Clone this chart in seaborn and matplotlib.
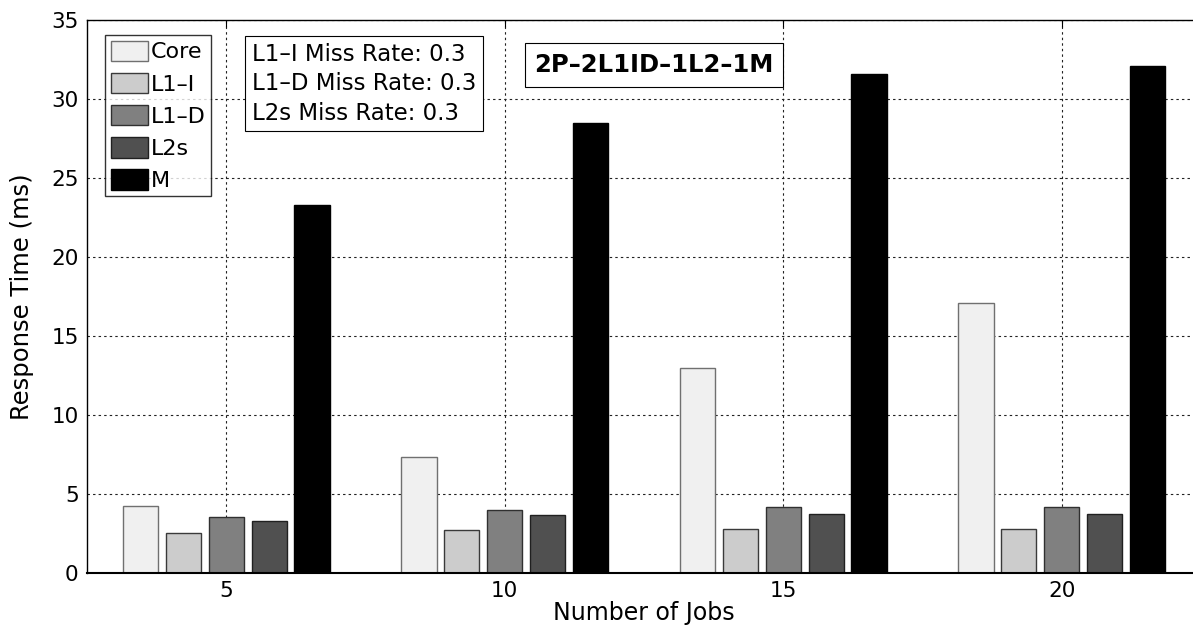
import matplotlib
matplotlib.use("Agg")
import matplotlib.pyplot as plt
import seaborn as sns
import pandas as pd
import numpy as np
from matplotlib.patches import Patch

jobs = [5, 10, 15, 20]
components = ["Core", "L1–I", "L1–D", "L2s", "M"]
core = [4.25, 7.32, 13.0, 17.1]
l1i = [2.52, 2.72, 2.78, 2.8]
l1d = [3.55, 3.98, 4.16, 4.2]
l2s = [3.31, 3.64, 3.74, 3.76]
mem = [23.3, 28.5, 31.6, 32.1]
fill_colors = ["#f0f0f0", "#cccccc", "#808080", "#505050", "#000000"]
edge_colors = ["#707070", "#3a3a3a", "#303030", "#202020", "#000000"]
info_lines = ["L1–I Miss Rate: 0.3", "L1–D Miss Rate: 0.3", "L2s Miss Rate: 0.3"]
config_title = "2P–2L1ID–1L2–1M"

series = [core, l1i, l1d, l2s, mem]
rows = []
for comp, vals in zip(components, series):
    for j, v in zip(jobs, vals):
        rows.append({"Jobs": j, "Component": comp, "Time": v})
df = pd.DataFrame(rows)

sns.set_style("white")
plt.rcParams["font.family"] = ["DejaVu Sans"]
plt.rcParams["text.color"] = "black"
plt.rcParams["axes.labelcolor"] = "black"
FS = 16.0

fig = plt.figure(figsize=(11.93, 6.26), dpi=100)
W, H = 1193, 626
ax = fig.add_axes([87 / W, 1 - 573 / H, (1201 - 87) / W, (573 - 20) / H])

sns.barplot(data=df, x="Jobs", y="Time", hue="Component", hue_order=components,
            palette=fill_colors, native_scale=True, width=0.77, gap=0.18,
            linewidth=1.0, ax=ax, legend=False, errorbar=None)

for cont, ec in zip(ax.containers, edge_colors):
    for p in cont:
        p.set_edgecolor(ec)
        p.set_linewidth(1.0)

ax.set_xlim(2.5, 22.5)
ax.set_ylim(0, 35)
ax.set_xticks(jobs)
ax.set_xticklabels([str(j) for j in jobs])
ax.set_yticks(np.arange(0, 36, 5))
ax.tick_params(direction="in", length=5, labelsize=15.5, colors="black",
               top=True, right=True, pad=6)
for s in ax.spines.values():
    s.set_visible(True)
    s.set_color("black")
    s.set_linewidth(1.0)
ax.spines["bottom"].set_linewidth(1.5)
ax.grid(True, color="#222222", linestyle=(0, (2.2, 2.8)), linewidth=0.8)
ax.set_axisbelow(True)

ax.set_xlabel("Number of Jobs", fontsize=17, labelpad=0)
ax.set_ylabel("Response Time (ms)", fontsize=17.5, labelpad=12)

handles = [Patch(facecolor=fc, edgecolor=ec, linewidth=1.0)
           for fc, ec in zip(fill_colors, edge_colors)]
leg = ax.legend(handles, components, loc="upper left",
                bbox_to_anchor=((105 - 87) / (1201 - 87), 1 - (35 - 20) / 553),
                fontsize=FS, frameon=True, fancybox=False, borderpad=0.25,
                handlelength=1.7, handleheight=1.05, handletextpad=0.12,
                labelspacing=0.46, borderaxespad=0.0)
leg.get_frame().set_edgecolor("black")
leg.get_frame().set_linewidth(1.0)

fig.text(252 / W, 1 - 43 / H, "\n".join(info_lines), fontsize=16.5,
         ha="left", va="top", linespacing=1.35,
         bbox=dict(boxstyle="square,pad=0.3", facecolor="white",
                   edgecolor="black", linewidth=0.8))

fig.text(654 / W, 1 - 65 / H, config_title, fontsize=17.5, fontweight="bold",
         ha="center", va="center",
         bbox=dict(boxstyle="square,pad=0.4", facecolor="white",
                   edgecolor="black", linewidth=0.8))

fig.savefig("out.png", dpi=100)
